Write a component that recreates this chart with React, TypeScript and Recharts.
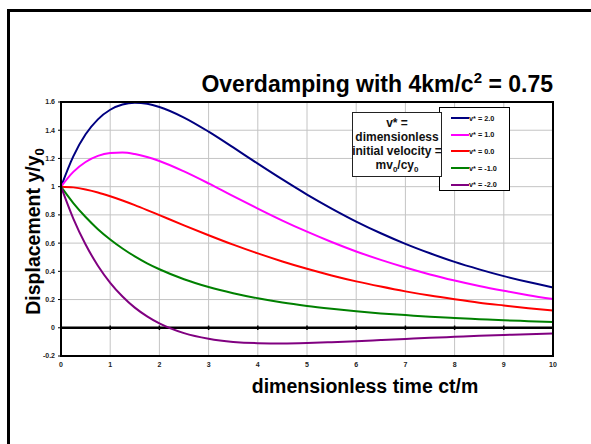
import React from "react";
import {
  LineChart,
  Line,
  XAxis,
  YAxis,
  CartesianGrid,
  ReferenceLine,
  Legend,
} from "recharts";

// dimensionless time ct/m
const times = [
  0, 0.25, 0.5, 0.75, 1, 1.25, 1.5, 1.75, 2, 2.5, 3, 3.5, 4, 4.5, 5, 5.5, 6,
  6.5, 7, 7.5, 8, 8.5, 9, 9.5, 10,
];

// displacement y/y0 for each v*
const vPlus2 = [
  1.0, 1.215, 1.371, 1.477, 1.545, 1.582, 1.594, 1.587, 1.565, 1.49, 1.39,
  1.278, 1.163, 1.051, 0.944, 0.845, 0.753, 0.67, 0.595, 0.528, 0.467, 0.414,
  0.366, 0.324, 0.286,
];
const vPlus1 = [
  1.0, 1.105, 1.175, 1.218, 1.238, 1.242, 1.231, 1.21, 1.182, 1.108, 1.023,
  0.933, 0.845, 0.76, 0.681, 0.608, 0.541, 0.481, 0.427, 0.378, 0.335, 0.296,
  0.262, 0.231, 0.204,
];
const vZero = [
  1.0, 0.995, 0.98, 0.959, 0.932, 0.902, 0.869, 0.834, 0.798, 0.726, 0.656,
  0.589, 0.527, 0.47, 0.418, 0.371, 0.329, 0.292, 0.258, 0.228, 0.202, 0.178,
  0.158, 0.139, 0.123,
];
const vMinus1 = [
  1.0, 0.884, 0.785, 0.699, 0.626, 0.562, 0.506, 0.457, 0.415, 0.344, 0.289,
  0.245, 0.209, 0.179, 0.155, 0.135, 0.117, 0.102, 0.09, 0.078, 0.069, 0.061,
  0.053, 0.047, 0.041,
];
const vMinus2 = [
  1.0, 0.774, 0.59, 0.44, 0.319, 0.222, 0.143, 0.081, 0.031, -0.038, -0.078,
  -0.1, -0.109, -0.111, -0.108, -0.102, -0.095, -0.087, -0.079, -0.071,
  -0.064, -0.057, -0.051, -0.045, -0.04,
];

const xTicks = [0, 1, 2, 3, 4, 5, 6, 7, 8, 9, 10];
const yTicks = [-0.2, 0, 0.2, 0.4, 0.6, 0.8, 1, 1.2, 1.4, 1.6];

const series = [
  { key: "p2", name: "v* = 2.0", color: "#000080", values: vPlus2 },
  { key: "p1", name: "v* = 1.0", color: "#ff00ff", values: vPlus1 },
  { key: "z0", name: "v* = 0.0", color: "#ff0000", values: vZero },
  { key: "m1", name: "v* = -1.0", color: "#008000", values: vMinus1 },
  { key: "m2", name: "v* = -2.0", color: "#800080", values: vMinus2 },
];

const rows = times.map((t, i) => {
  const row: Record<string, number> = { t };
  series.forEach((s) => (row[s.key] = s.values[i]));
  return row;
});

const FONT = '"Liberation Sans", Arial, sans-serif';
const W = 591;
const H = 444;
const M = { top: 102, right: 38, bottom: 58, left: 31 };
const Y_AXIS_W = 30;
const X_AXIS_H = 30;
const tickStyle = {
  fontSize: 7,
  fontWeight: "bold",
  fill: "#222",
  fontFamily: FONT,
};

const LegendBox = () => (
  <div
    style={{
      boxSizing: "border-box",
      width: 71,
      height: 84,
      border: "1.5px solid #000",
      background: "#fff",
      paddingTop: 2,
    }}
  >
    {series.map((s) => (
      <div
        key={s.key}
        style={{
          display: "flex",
          alignItems: "center",
          height: 16.6,
          paddingLeft: 11,
        }}
      >
        <span
          style={{
            display: "inline-block",
            width: 18,
            height: 2,
            background: s.color,
          }}
        />
        <span
          style={{
            fontFamily: FONT,
            fontWeight: "bold",
            fontSize: 7.3,
            color: "#111",
            whiteSpace: "nowrap",
          }}
        >
          {s.name}
        </span>
      </div>
    ))}
  </div>
);

const sub: React.CSSProperties = {
  fontSize: 8,
  position: "relative",
  top: 3,
  lineHeight: 0,
};

export default function App() {
  const plotX = M.left + Y_AXIS_W;
  const plotY = M.top;
  const plotW = W - plotX - M.right;
  const plotH = H - M.top - M.bottom - X_AXIS_H;
  return (
    <div
      style={{
        position: "absolute",
        left: 0,
        top: 0,
        width: W,
        height: H,
        overflow: "hidden",
        background: "#fff",
      }}
    >
      <div style={{ position: "absolute", left: 0, top: 0 }}>
        <LineChart width={W} height={H} data={rows} margin={M}>
          <CartesianGrid stroke="#c4c4c4" strokeWidth={1} />
          <XAxis
            dataKey="t"
            type="number"
            domain={[0, 10]}
            ticks={xTicks}
            height={X_AXIS_H}
            axisLine={false}
            tickLine={false}
            tickSize={4}
            tickMargin={2}
            interval={0}
            tick={tickStyle}
          />
          <YAxis
            type="number"
            domain={[-0.2, 1.6]}
            ticks={yTicks}
            width={Y_AXIS_W}
            interval={0}
            axisLine={false}
            tickSize={3}
            tickMargin={3}
            tickLine={{ stroke: "#000" }}
            tickFormatter={(v: number) => String(v)}
            tick={tickStyle}
          />
          <ReferenceLine y={0} stroke="#000" strokeWidth={2.5} />
          {xTicks.slice(1, -1).map((x) => (
            <ReferenceLine
              key={x}
              segment={[
                { x, y: -0.016 },
                { x, y: 0.016 },
              ]}
              stroke="#000"
              strokeWidth={1.5}
            />
          ))}
          {series.map((s) => (
            <Line
              key={s.key}
              dataKey={s.key}
              name={s.name}
              type="monotone"
              stroke={s.color}
              strokeWidth={2}
              dot={false}
              activeDot={false}
              isAnimationActive={false}
            />
          ))}
          <Legend
            layout="vertical"
            align="center"
            verticalAlign="middle"
            content={() => <LegendBox />}
            wrapperStyle={{ left: 439, top: 107, width: 71, height: 84 }}
          />
        </LineChart>
      </div>
      <svg
        width={W}
        height={H}
        style={{ position: "absolute", left: 0, top: 0, pointerEvents: "none" }}
        fontFamily={FONT}
        fontWeight="bold"
      >
        {/* outer frame: only the top and left edges fall inside the picture */}
        <path d={`M 8.5 ${H} V 10.5 H ${W}`} fill="none" stroke="#000" strokeWidth={3} />
        {/* plot area border */}
        <rect
          x={plotX}
          y={plotY}
          width={plotW}
          height={plotH}
          fill="none"
          stroke="#000"
          strokeWidth={2}
        />
        <text x={553} y={92} textAnchor="end" fontSize={23} fill="#000">
          Overdamping with 4km/c
          <tspan fontSize={15} dy={-9}>
            2
          </tspan>
          <tspan dy={9}> = 0.75</tspan>
        </text>
        <text
          transform="translate(40 231.5) rotate(-90)"
          textAnchor="middle"
          fontSize={19.5}
          fill="#000"
        >
          Displacement y/y
          <tspan fontSize={13} dy={4}>
            0
          </tspan>
        </text>
        <text x={365} y={393} textAnchor="middle" fontSize={19.5} fill="#000">
          dimensionless time ct/m
        </text>
      </svg>
      <div
        style={{
          position: "absolute",
          left: 352,
          top: 112,
          width: 90,
          height: 65,
          boxSizing: "border-box",
          border: "1.5px solid #222",
          background: "#fff",
          fontFamily: FONT,
          fontWeight: "bold",
          fontSize: 12,
          lineHeight: "14px",
          textAlign: "center",
          paddingTop: 3,
          whiteSpace: "nowrap",
          color: "#111",
        }}
      >
        <div>v* =</div>
        <div>dimensionless</div>
        <div style={{ marginLeft: -3, marginRight: -3 }}>initial velocity =</div>
        <div>
          mv<span style={sub}>0</span>/cy<span style={sub}>0</span>
        </div>
      </div>
    </div>
  );
}
